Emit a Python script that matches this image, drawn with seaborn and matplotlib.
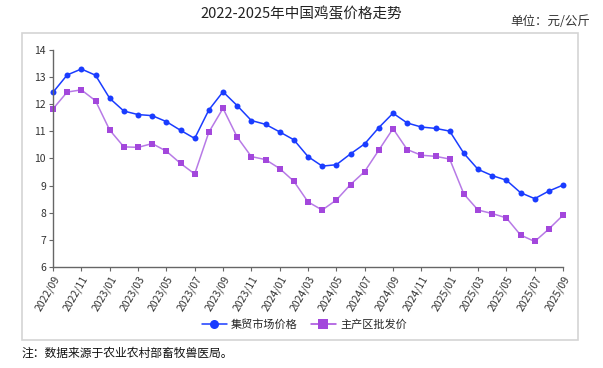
import matplotlib
matplotlib.use("Agg")
import matplotlib.pyplot as plt
from matplotlib.patches import Rectangle
import seaborn as sns
import pandas as pd

# --------- dados (leitura aproximada do gráfico)
months = pd.date_range("2022-09-01", "2025-09-01", freq="MS").strftime("%Y/%m").tolist()

market_price = [12.44, 13.08, 13.30, 13.07, 12.22, 11.75, 11.62, 11.58, 11.36, 11.04,
                10.74, 11.79, 12.46, 11.95, 11.40, 11.26, 10.98, 10.69, 10.07, 9.72,
                9.77, 10.17, 10.54, 11.14, 11.67, 11.31, 11.16, 11.11, 11.01, 10.19,
                9.60, 9.37, 9.20, 8.74, 8.52, 8.80, 9.02]

wholesale_price = [11.83, 12.45, 12.53, 12.13, 11.05, 10.43, 10.41, 10.55, 10.27, 9.82,
                   9.43, 10.97, 11.85, 10.79, 10.07, 9.96, 9.63, 9.16, 8.40, 8.10,
                   8.47, 9.04, 9.52, 10.31, 11.10, 10.33, 10.12, 10.08, 9.98, 8.69,
                   8.10, 7.97, 7.81, 7.18, 6.94, 7.40, 7.91]

series_names = ["集贸市场价格", "主产区批发价"]

df = pd.DataFrame({
    "idx": list(range(len(months))) * 2,
    "price": market_price + wholesale_price,
    "serie": [series_names[0]] * len(months) + [series_names[1]] * len(months),
})

sns.set_theme(style="white")
plt.rcParams["font.family"] = ["Noto Sans CJK SC", "DejaVu Sans"]

fig = plt.figure(figsize=(6.03, 3.68), dpi=100)
ax = fig.add_axes([0.0879, 0.2745, 0.8458, 0.5896])

# moldura cinza em volta do gráfico
fig.patches.append(Rectangle((22 / 603, 1 - 340 / 368), 556 / 603, 307 / 368,
                             transform=fig.transFigure, fill=False,
                             edgecolor="#d4d4d4", linewidth=1.2, zorder=0))

palette = {series_names[0]: "#1a3cff", series_names[1]: "#a347dc"}
sns.lineplot(data=df, x="idx", y="price", hue="serie", style="serie",
             markers={series_names[0]: "o", series_names[1]: "s"},
             dashes=False, palette=palette, markersize=4.3, linewidth=1.1,
             markeredgewidth=0, ax=ax, clip_on=False)

# linha da série roxa um pouco mais clara
ax.lines[1].set_color("#b77ae6")
ax.lines[1].set_markerfacecolor("#a347dc")

ax.set_xlim(0, len(months) - 1)
ax.set_ylim(6, 14)
ax.set_yticks(range(6, 15))
ax.set_xticks(range(0, len(months), 2))
ax.set_xticklabels(months[::2], rotation=60, ha="right", rotation_mode="anchor",
                   fontsize=7.5, color="#333333")
ax.tick_params(axis="y", labelsize=7.5, labelcolor="#333333")
ax.tick_params(axis="both", direction="out", length=3, width=0.8, color="#666666",
               bottom=True, left=True, pad=2)
ax.set_xlabel("")
ax.set_ylabel("")
for side in ["top", "right"]:
    ax.spines[side].set_visible(False)
for side in ["left", "bottom"]:
    ax.spines[side].set_color("#666666")
    ax.spines[side].set_linewidth(1.0)

handles, labels = ax.get_legend_handles_labels()
ax.get_legend().remove()
for h in handles:
    h.set_markersize(6.5)
fig.legend(handles, labels, loc="center", bbox_to_anchor=(0.505, 0.117), ncol=2,
           frameon=False, fontsize=8, handlelength=2.2, columnspacing=1.2,
           handletextpad=0.4)

fig.text(0.5, 0.962, "2022-2025年中国鸡蛋价格走势", ha="center", va="center",
         fontsize=10.5, color="#222222")
fig.text(0.978, 0.942, "单位：元/公斤", ha="right", va="center", fontsize=9,
         color="#333333")
fig.text(0.035, 0.04, "注：数据来源于农业农村部畜牧兽医局。", ha="left", va="center",
         fontsize=8.5, color="#111111")

fig.savefig("out.png", dpi=100)
